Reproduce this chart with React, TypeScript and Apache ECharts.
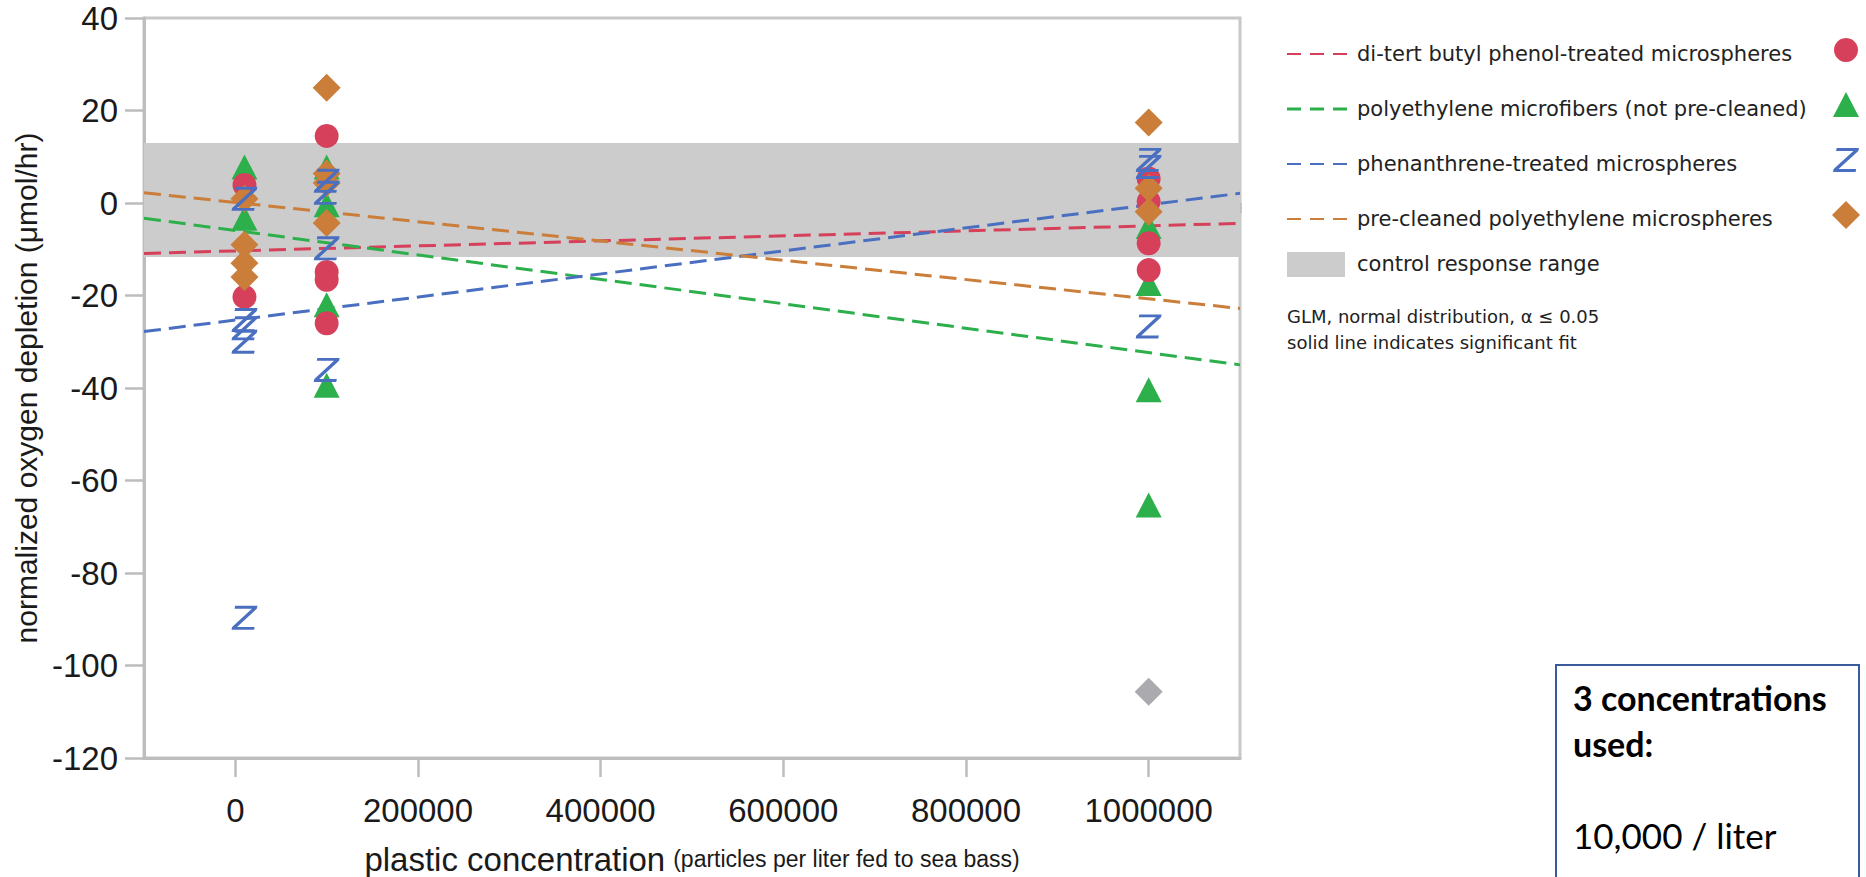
import { useEffect, useRef } from "react";
import * as echarts from "echarts";

// Axis ticks
const xMajorTicks = [0, 200000, 400000, 600000, 800000, 1000000];
const xMinorTicks = [-100000, 100000, 300000, 500000, 700000, 900000, 1100000];

// Series names
const phenolName = "di-tert butyl phenol-treated microspheres";
const fiberName = "polyethylene microfibers (not pre-cleaned)";
const phenanthreneName = "phenanthrene-treated microspheres";
const precleanedName = "pre-cleaned polyethylene microspheres";
const controlName = "control response range";

// Observations: [particles per liter, normalized oxygen depletion]
const phenolPoints = [
  [10000, 3.9], [10000, -20.3],
  [100000, 14.5], [100000, -14.9], [100000, -16.6], [100000, -26.0],
  [1000000, 5.3], [1000000, 0.3], [1000000, -8.7], [1000000, -14.5],
];
const fiberPoints = [
  [10000, 7.8], [10000, -3.3],
  [100000, 7.8], [100000, -0.4], [100000, -22.0], [100000, -39.4],
  [1000000, -5.1], [1000000, -17.4], [1000000, -40.4], [1000000, -65.3],
];
const phenanthrenePoints = [
  [10000, 0.9], [10000, -25.3], [10000, -27.1], [10000, -30.0], [10000, -89.7],
  [100000, 4.8], [100000, 2.2], [100000, -9.8], [100000, -36.1],
  [1000000, 9.3], [1000000, 7.8], [1000000, -26.7],
];
const precleanedPoints = [
  [10000, 0.9], [10000, -9.0], [10000, -13.0], [10000, -16.0],
  [100000, 24.9], [100000, 6.4], [100000, 4.3], [100000, -4.3],
  [1000000, 17.4], [1000000, 3.2], [1000000, -1.9],
];
const excludedPoints = [[1000000, -105.7]];

// GLM fit lines, value at each end of the x range
const fitRange = [-100000, 1100000];
const phenolFit = [-10.9, -4.4];
const fiberFit = [-3.3, -35.0];
const phenanthreneFit = [-27.8, 2.1];
const precleanedFit = [2.2, -22.8];

// Control response range (low, high)
const controlRange = [-11.7, 13.0];

const RED = "#D6405B";
const GREEN = "#2DB04B";
const BLUE = "#4A6FC1";
const ORANGE = "#CB7D3A";
const GREY_MARK = "#ABABAF";
const AXIS_GREY = "#BDBDBD";

const Z_PATH =
  "path://M4,0 L28,0 L27.3,3 L6,22 L25,22 L24.3,25 L0,25 L0.7,22 L22,3 L3.3,3 Z";
const Z_BASE = [
  [4, 0], [28, 0], [27.3, 3], [6, 22], [25, 22], [24.3, 25], [0, 25], [0.7, 22], [22, 3], [3.3, 3],
];

function zShape(cx: number, cy: number, w: number, h: number) {
  return Z_BASE.map(([x, y]) => [cx - w / 2 + (x / 28) * w, cy - h / 2 + (y / 25) * h]);
}

function fitData(ends: number[]) {
  return [
    [fitRange[0], ends[0]],
    [fitRange[1], ends[1]],
  ];
}

export default function App() {
  const ref = useRef<HTMLDivElement>(null);

  useEffect(() => {
    document.body.style.margin = "0";
    if (!ref.current) return;
    const chart = echarts.init(ref.current, undefined, { renderer: "svg" });

    const tickFont = { fontFamily: "Liberation Sans", fontSize: 33, color: "#1a1a1a" };

    const fitLine = (name: string, ends: number[], color: string) => ({
      name,
      type: "line",
      data: fitData(ends),
      symbol: "none",
      z: 3,
      lineStyle: { color, width: 3, type: [17, 8] },
      silent: true,
    });

    const scatter = (name: string, data: number[][], symbol: string, size: any, color: string, z: number) => ({
      name,
      type: "scatter",
      data,
      symbol,
      symbolSize: size,
      itemStyle: { color, opacity: 1 },
      z,
    });

    const legendRowsText = [54, 109, 164, 219];
    const legendRowsMark = [50, 105, 160, 215];
    const legendColors = [RED, GREEN, BLUE, ORANGE];
    const legendNames = [phenolName, fiberName, phenanthreneName, precleanedName];
    const markX = 1846;

    const graphic: any[] = [];
    legendNames.forEach((n, i) => {
      graphic.push({
        type: "line",
        shape: { x1: 1287, y1: legendRowsText[i], x2: 1349, y2: legendRowsText[i] },
        style: { stroke: legendColors[i], lineWidth: i === 1 ? 3 : 2, lineDash: [14, 9] },
      });
      graphic.push({
        type: "text",
        x: 1357,
        y: legendRowsText[i],
        style: {
          text: n,
          font: "21px 'DejaVu Sans'",
          fill: "#222",
          align: "left",
          verticalAlign: "middle",
        },
      });
    });
    graphic.push({
      type: "circle",
      shape: { cx: markX, cy: legendRowsMark[0], r: 12 },
      style: { fill: RED },
    });
    graphic.push({
      type: "polygon",
      shape: {
        points: [
          [markX, legendRowsMark[1] - 13],
          [markX + 13, legendRowsMark[1] + 12],
          [markX - 13, legendRowsMark[1] + 12],
        ],
      },
      style: { fill: GREEN },
    });
    graphic.push({
      type: "polygon",
      shape: { points: zShape(markX, legendRowsMark[2], 26, 24) },
      style: { fill: BLUE },
    });
    graphic.push({
      type: "polygon",
      shape: {
        points: [
          [markX, legendRowsMark[3] - 14],
          [markX + 14, legendRowsMark[3]],
          [markX, legendRowsMark[3] + 14],
          [markX - 14, legendRowsMark[3]],
        ],
      },
      style: { fill: ORANGE },
    });
    graphic.push({
      type: "rect",
      shape: { x: 1287, y: 252, width: 58, height: 25 },
      style: { fill: "#CCCCCC" },
    });
    graphic.push({
      type: "text",
      x: 1357,
      y: 264,
      style: { text: controlName, font: "21px 'DejaVu Sans'", fill: "#222", verticalAlign: "middle" },
    });
    graphic.push({
      type: "text",
      x: 1287,
      y: 316,
      style: {
        text: "GLM, normal distribution, \u03B1 \u2264 0.05",
        font: "18px 'DejaVu Sans'",
        fill: "#222",
        verticalAlign: "middle",
      },
    });
    graphic.push({
      type: "text",
      x: 1287,
      y: 342,
      style: {
        text: "solid line indicates significant fit",
        font: "18px 'DejaVu Sans'",
        fill: "#222",
        verticalAlign: "middle",
      },
    });
    // Note box
    graphic.push({
      type: "rect",
      shape: { x: 1556, y: 665, width: 303, height: 260 },
      style: { fill: "#fff", stroke: "#3A5A9C", lineWidth: 2 },
    });
    graphic.push({
      type: "text",
      x: 1573,
      y: 697,
      style: { text: "3 concentrations", font: "bold 34px Lato", fill: "#000", verticalAlign: "middle" },
    });
    graphic.push({
      type: "text",
      x: 1573,
      y: 743,
      style: { text: "used:", font: "bold 34px Lato", fill: "#000", verticalAlign: "middle" },
    });
    graphic.push({
      type: "text",
      x: 1573,
      y: 835,
      style: { text: "10,000 / liter", font: "35px Lato", fill: "#000", verticalAlign: "middle" },
    });

    chart.setOption({
      animation: false,
      backgroundColor: "#fff",
      grid: {
        left: 144,
        top: 18,
        width: 1096,
        height: 740,
        show: true,
        borderColor: "#C8C8C8",
        borderWidth: 3,
        backgroundColor: "transparent",
        outerBoundsMode: "none",
        containLabel: false,
      },
      xAxis: [
        {
          type: "value",
          min: fitRange[0],
          max: fitRange[1],
          position: "bottom",
          axisLine: { show: true, onZero: false, lineStyle: { color: AXIS_GREY, width: 3 } },
          axisTick: {
            show: true,
            customValues: xMajorTicks,
            length: 19,
            lineStyle: { color: AXIS_GREY, width: 2.5 },
          },
          axisLabel: {
            customValues: xMajorTicks,
            margin: 36,
            formatter: (v: number) => String(v),
            ...tickFont,
          },
          splitLine: { show: false },
          name: "{a|plastic concentration}{s| }{b|(particles per liter fed to sea bass)}",
          nameLocation: "middle",
          nameGap: 85,
          nameTextStyle: {
            lineHeight: 32,
            rich: {
              a: { fontFamily: "Liberation Sans", fontSize: 33, lineHeight: 32, color: "#1a1a1a" },
              s: { fontFamily: "Liberation Sans", fontSize: 20, lineHeight: 32, width: 8 },
              b: { fontFamily: "Liberation Sans", fontSize: 23, lineHeight: 32, color: "#1a1a1a" },
            },
          },
        },
        {
          type: "value",
          min: fitRange[0],
          max: fitRange[1],
          position: "bottom",
          axisLine: { show: false },
          axisTick: {
            show: true,
            customValues: xMinorTicks,
            length: 10,
            lineStyle: { color: AXIS_GREY, width: 2.5 },
          },
          axisLabel: { show: false },
          splitLine: { show: false },
        },
      ],
      yAxis: {
        type: "value",
        min: -120,
        max: 40,
        interval: 20,
        axisLine: { show: true, onZero: false, lineStyle: { color: AXIS_GREY, width: 3 } },
        axisTick: { show: true, length: 19, lineStyle: { color: AXIS_GREY, width: 2.5 } },
        axisLabel: { margin: 26, ...tickFont },
        splitLine: { show: false },
        name: "normalized oxygen depletion (\u03BCmol/hr)",
        nameLocation: "middle",
        nameRotate: 90,
        nameGap: 102,
        nameTextStyle: { fontFamily: "Liberation Sans", fontSize: 30, color: "#1a1a1a" },
      },
      graphic,
      series: [
        {
          name: controlName,
          type: "line",
          data: [],
          symbol: "none",
          z: 1,
          markArea: {
            silent: true,
            itemStyle: { color: "#CCCCCC", opacity: 1 },
            data: [[{ yAxis: controlRange[0] }, { yAxis: controlRange[1] }]],
          },
        },
        fitLine(phenolName, phenolFit, RED),
        fitLine(fiberName, fiberFit, GREEN),
        fitLine(phenanthreneName, phenanthreneFit, BLUE),
        fitLine(precleanedName, precleanedFit, ORANGE),
        scatter(fiberName, fiberPoints, "triangle", [26, 25], GREEN, 4),
        scatter(phenolName, phenolPoints, "circle", 24, RED, 5),
        scatter(precleanedName, precleanedPoints, "diamond", 28, ORANGE, 6),
        scatter(phenanthreneName, phenanthrenePoints, Z_PATH, [26, 24], BLUE, 7),
        scatter("excluded", excludedPoints, "diamond", 28, GREY_MARK, 6),
      ],
    });

    return () => chart.dispose();
  }, []);

  return <div ref={ref} style={{ width: 1866, height: 877 }} />;
}
